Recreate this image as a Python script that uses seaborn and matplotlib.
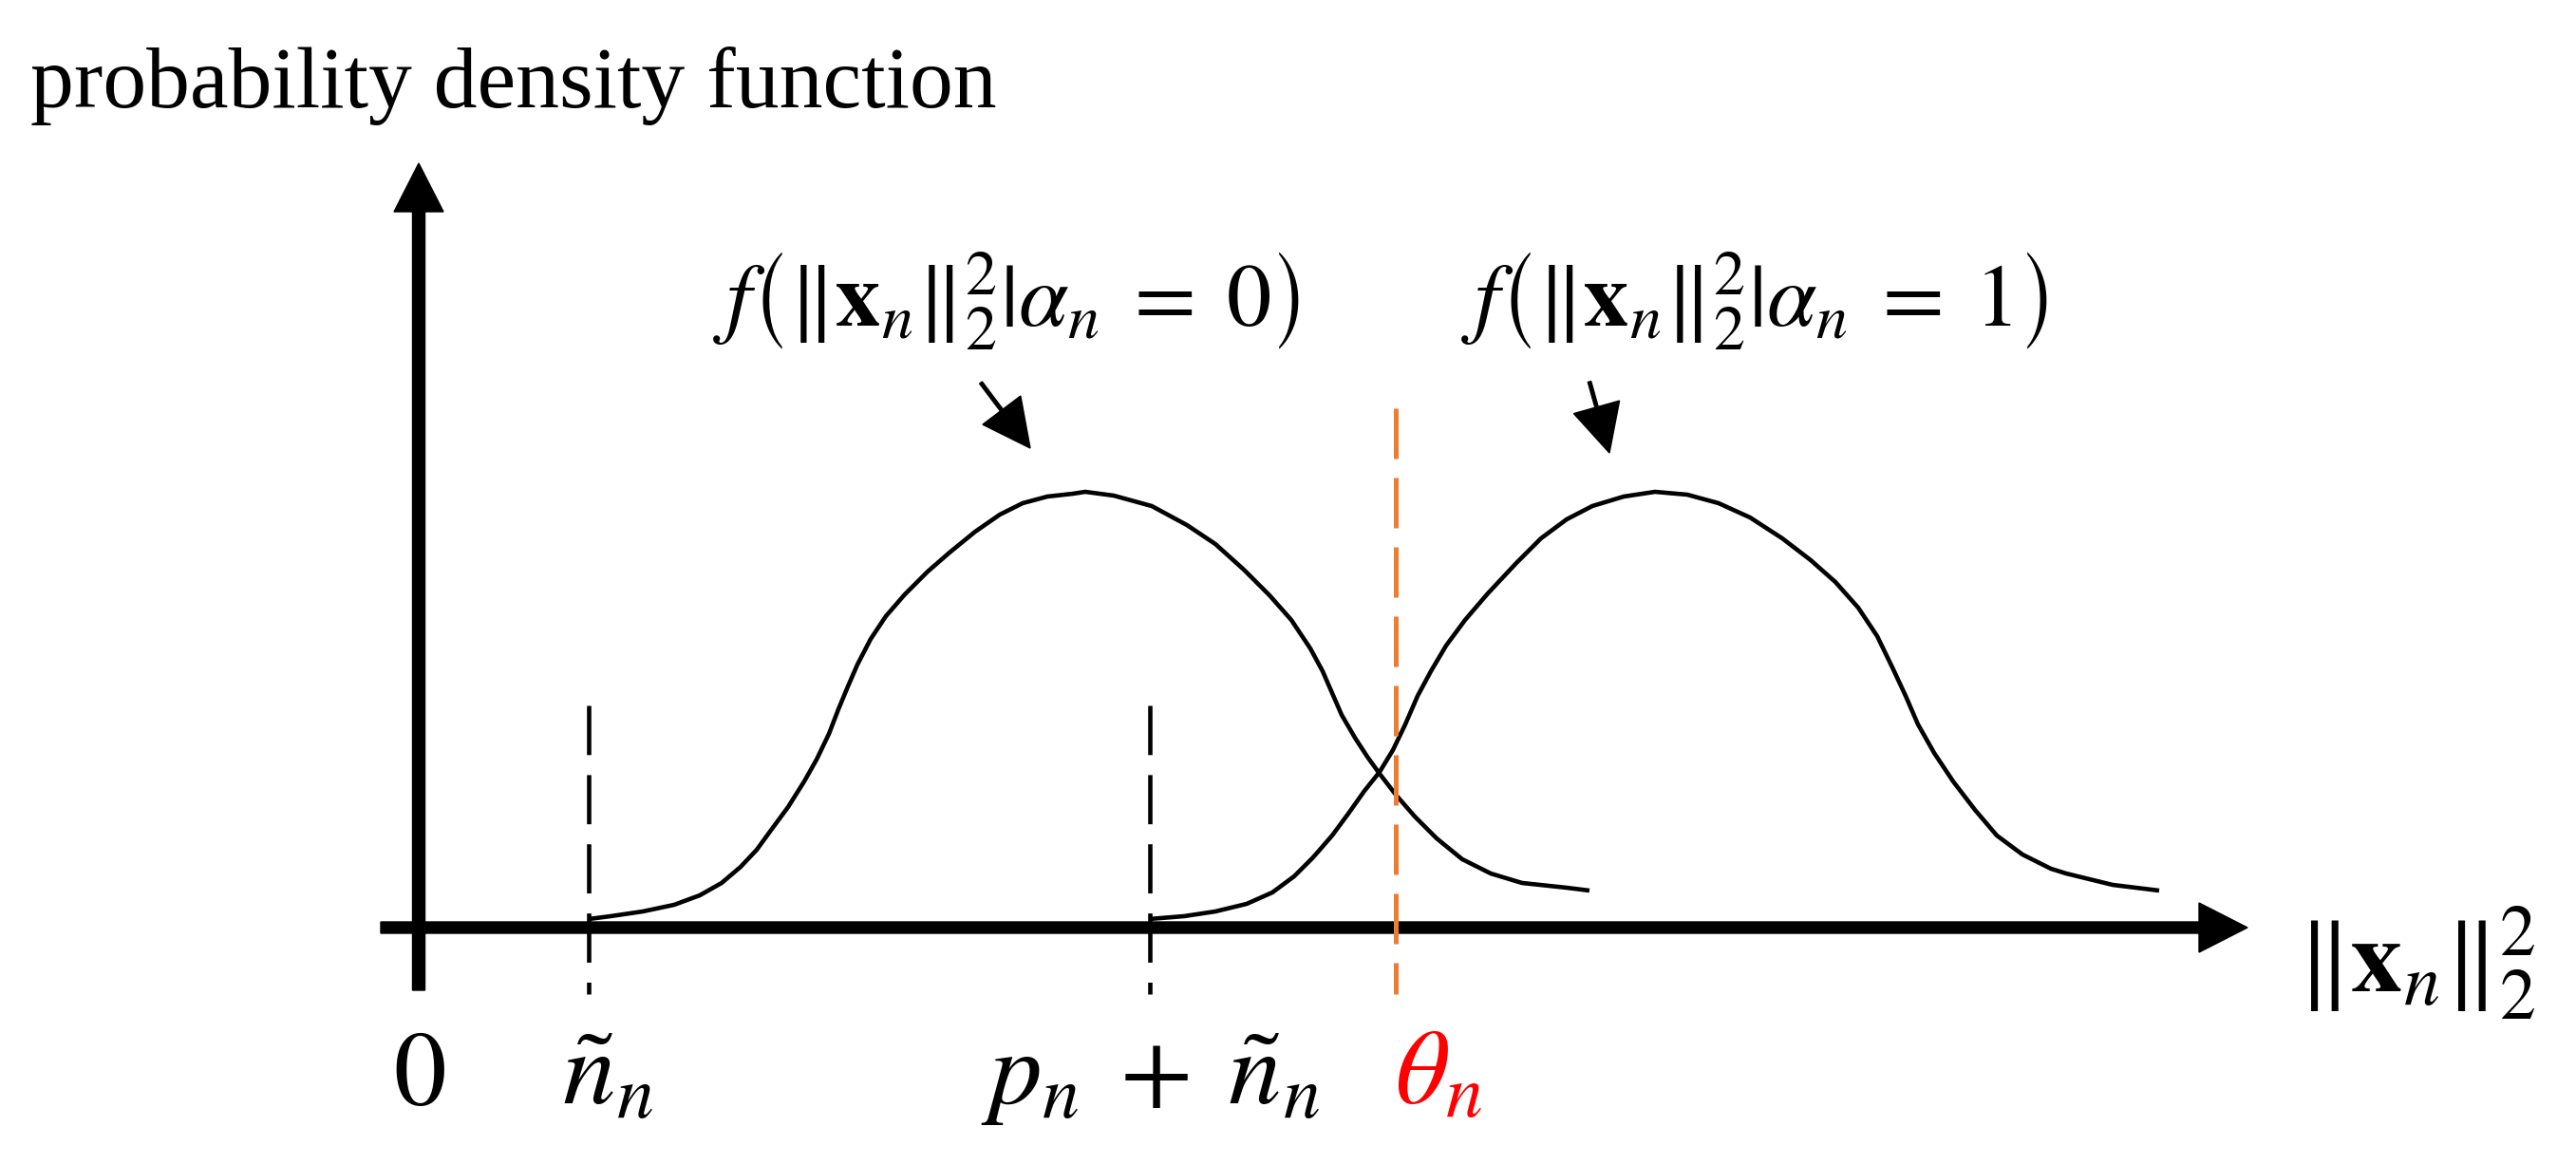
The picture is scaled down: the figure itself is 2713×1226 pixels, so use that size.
import matplotlib
matplotlib.use("Agg")
import matplotlib.pyplot as plt
import pandas as pd
import seaborn as sns

# curve points
# x: pixels right of the origin, y: pixels above the horizontal axis
x_h0 = [179, 202, 236, 269, 296, 319, 339, 356, 372, 389, 406, 419, 432, 442, 452, 462,
        476, 492, 512, 536, 559, 586, 612, 636, 662, 689, 702, 732, 772, 809, 839, 869,
        896, 919, 939, 952, 962, 972, 986, 999, 1012, 1029, 1049, 1072, 1099, 1129, 1162,
        1209, 1233]
y_h0 = [9, 12, 17, 24, 34, 47, 64, 82, 104, 127, 154, 177, 204, 230, 254, 277,
        304, 328, 351, 375, 395, 417, 435, 447, 454, 457, 459, 455, 444, 424, 404, 377,
        350, 324, 294, 270, 247, 224, 200, 180, 162, 140, 117, 94, 72, 57, 47,
        42, 39]
x_h1 = [769, 806, 839, 872, 899, 922, 942, 962, 979, 996, 1012, 1026, 1039, 1052, 1066,
        1082, 1102, 1126, 1156, 1182, 1209, 1236, 1269, 1302, 1336, 1369, 1402, 1436, 1466,
        1492, 1516, 1536, 1552, 1566, 1579, 1596, 1616, 1639, 1662, 1689, 1719, 1735, 1784,
        1833]
y_h1 = [9, 12, 17, 25, 37, 54, 74, 97, 120, 144, 164, 187, 214, 244, 270,
        297, 324, 352, 384, 410, 430, 444, 454, 459, 456, 447, 432, 410, 387,
        364, 337, 307, 274, 244, 214, 184, 154, 124, 97, 77, 62, 57, 45,
        39]

hyp_labels = [r"$f\left(\Vert\mathbf{x}_n\Vert_2^2|\alpha_n\;=\;0\right)$",
              r"$f\left(\Vert\mathbf{x}_n\Vert_2^2|\alpha_n\;=\;1\right)$"]

# positions on the horizontal axis
mark_x = [179, 770]
theta_x = 1029
tick_labels = ["$0$", r"$\tilde{n}_n$", r"$p_n\;+\;\tilde{n}_n$", r"$\theta_n$"]
tick_label_x = [0, 199, 771, 1074]

sns.set_theme(style="white")
plt.rcParams["mathtext.fontset"] = "stix"
plt.rcParams["text.color"] = "black"

fig = plt.figure(figsize=(27.13, 12.26), dpi=100)
ax = fig.add_axes([0, 0, 1, 1])
ax.set_xlim(-441, 2272)
ax.set_ylim(-249, 977)
ax.set_axis_off()

df = pd.concat([
    pd.DataFrame({"x": x_h0, "y": y_h0, "h": "0"}),
    pd.DataFrame({"x": x_h1, "y": y_h1, "h": "1"}),
])
sns.lineplot(data=df, x="x", y="y", hue="h", palette=["black", "black"],
             sort=False, legend=False, lw=3.3, ax=ax)
for ln in ax.lines:
    ln.set_solid_joinstyle("round")
    ln.set_solid_capstyle("butt")

# axes with arrow heads
ax.arrow(-40, 0, 1966, 0, width=12, head_width=52, head_length=51,
         length_includes_head=True, color="black", zorder=3)
ax.arrow(0, -66, 0, 871, width=13, head_width=52, head_length=51,
         length_includes_head=True, color="black", zorder=3)

# dashed markers
for mx in mark_x:
    ax.plot([mx, mx], [234, -70], color="black", lw=3.3, dashes=(11.3, 4.6), zorder=2)
ax.plot([theta_x, theta_x], [547, -70], color="#ED7D31", lw=3.6, dashes=(10.6, 4), zorder=4)

# small pointer arrows
ax.arrow(592, 574, 52, -69, width=3.5, head_width=50, head_length=50,
         length_includes_head=True, color="black")
ax.arrow(1233, 575, 21, -75, width=3.5, head_width=50, head_length=50,
         length_includes_head=True, color="black")

ax.text(619, 659, hyp_labels[0], fontsize=68, ha="center", va="center")
ax.text(1407, 659, hyp_labels[1], fontsize=68, ha="center", va="center")

for lx, lab in zip(tick_label_x, tick_labels):
    col = "#FF0000" if "theta" in lab else "black"
    ax.text(lx, -186, lab, fontsize=80, ha="center", va="baseline", color=col)

ax.text(1978, -38, r"$\Vert\mathbf{x}_n\Vert_2^2$", fontsize=78, ha="left", va="center")
ax.text(-409, 864, "probability density function", family="Liberation Serif",
        fontsize=66, ha="left", va="baseline")

fig.savefig("out.png", dpi=100)
